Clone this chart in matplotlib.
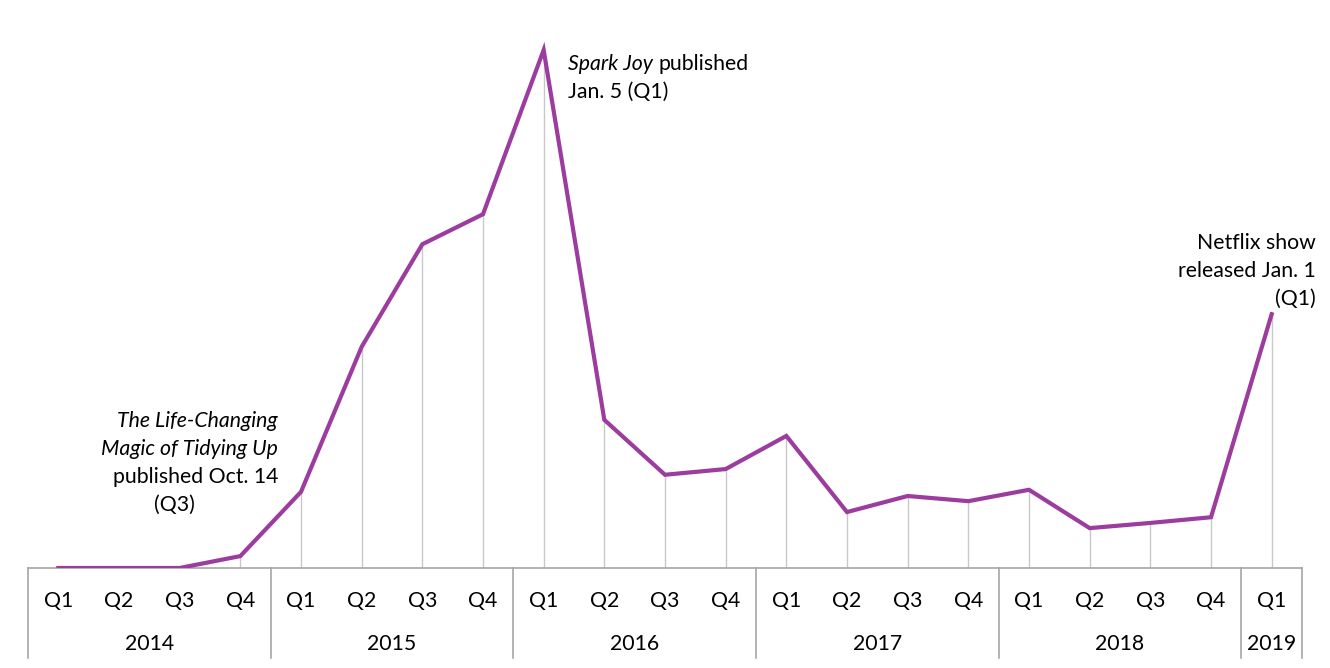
import numpy as np
import matplotlib.pyplot as plt

# search interest by quarter, 2014 Q1 .. 2019 Q1 (peak = 100)
quarters = ["Q1", "Q2", "Q3", "Q4"] * 5 + ["Q1"]
years = ["2014", "2015", "2016", "2017", "2018", "2019"]
year_sizes = [4, 4, 4, 4, 4, 1]
interest = [0, 0, 0, 2.3, 14.7, 42.7, 62.5, 68.3, 100, 28.6, 18.0,
            19.1, 25.5, 10.8, 13.9, 12.9, 15.1, 7.7, 8.7, 9.8, 49.0]

plt.rcParams['font.family'] = ['Lato', 'DejaVu Sans']
FS = 15.3

W, H = 1330, 668
fig = plt.figure(figsize=(W / 100, H / 100), dpi=100)
# axes from x=28px to 1302px, baseline at 568px
ax = fig.add_axes([28 / W, (H - 568) / H, (1302 - 28) / W, 568 / H])

x = np.arange(len(interest))
purple = "#9B3C9E"
grid = "#c8c8c8"

ax.vlines(x, 0, interest, color=grid, lw=1.0, zorder=1)
ax.plot(x, interest, color=purple, lw=3, solid_joinstyle="miter", zorder=3)

ax.set_xlim(-0.5, len(interest) - 0.5)
ax.set_ylim(0, 100 * 568 / 518)
for s in ["top", "right", "left"]:
    ax.spines[s].set_visible(False)
ax.spines["bottom"].set_color("#a6a6a6")
ax.spines["bottom"].set_linewidth(1.2)
ax.set_yticks([])
ax.set_xticks([])

# two-level category axis below the baseline
trans = ax.get_xaxis_transform()
depth = -90 / 568
edges = np.concatenate([[0], np.cumsum(year_sizes)]) - 0.5
for e in edges:
    ax.plot([e, e], [0, depth], transform=trans, color="#a6a6a6",
            lw=1.2, clip_on=False)
for i, q in enumerate(quarters):
    ax.text(i, -33 / 568, q, transform=trans, ha="center", va="center",
            fontsize=FS, color="black")
for k, y in enumerate(years):
    mid = (edges[k] + edges[k + 1]) / 2
    ax.text(mid, -76 / 568, y, transform=trans, ha="center", va="center",
            fontsize=FS, color="black")


def px(xp, yp):
    return xp / W, 1 - yp / H


# annotations
t = fig.text(*px(568, 64), "Spark Joy", style="italic", fontsize=FS,
             ha="left", va="center")
r = fig.canvas.get_renderer()
bb = t.get_window_extent(renderer=r)
fig.text(bb.x1 / W + 6 / W, 1 - 64 / H, "published", fontsize=FS,
         ha="left", va="center")
fig.text(*px(568, 92), "Jan. 5 (Q1)", fontsize=FS, ha="left", va="center")

fig.text(*px(1316, 243), "Netflix show", fontsize=FS, ha="right", va="center")
fig.text(*px(1316, 271), "released Jan. 1", fontsize=FS, ha="right", va="center")
fig.text(*px(1316, 299), "(Q1)", fontsize=FS, ha="right", va="center")

fig.text(*px(278, 421), "The Life-Changing", style="italic", fontsize=FS,
         ha="right", va="center")
fig.text(*px(278, 449), "Magic of Tidying Up", style="italic", fontsize=FS,
         ha="right", va="center")
fig.text(*px(278, 477), "published Oct. 14", fontsize=FS, ha="right", va="center")
fig.text(*px(174, 505), "(Q3)", fontsize=FS, ha="center", va="center")

fig.savefig("out.png", dpi=100)
